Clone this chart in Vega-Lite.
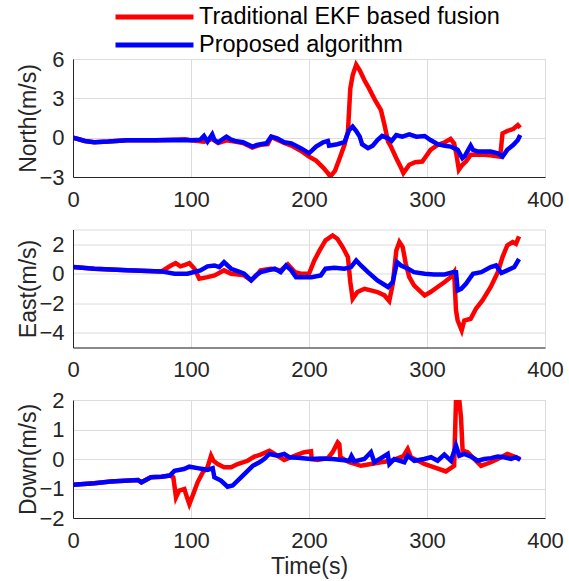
{
"$schema": "https://vega.github.io/schema/vega-lite/v6.json",
"background": "white",
"padding": {"left": 17, "top": 4, "right": 5, "bottom": 5},
"bounds": "flush",
"spacing": 52.5,
"config": {
 "font": "Liberation Sans",
 "view": {"stroke": "#dcdcdc", "strokeWidth": 1},
 "axis": {"labelFont": "Liberation Sans", "labelFontSize": 22, "labelColor": "#262626", "titleFont": "Liberation Sans", "titleFontSize": 23, "titleFontWeight": "normal", "titleColor": "#262626", "domainColor": "#262626", "domainWidth": 1, "tickSize": 0, "gridColor": "#dcdcdc", "gridWidth": 1, "labelFlush": false, "labelOverlap": false},
 "axisX": {"labelPadding": 12, "titlePadding": 4},
 "axisY": {"labelPadding": 9, "titlePadding": -2},
 "legend": {"labelFont": "Liberation Sans"}
},
"data": {"values": [
{"p":"N","s":"A","t":0,"v":0},{"p":"N","s":"A","t":5,"v":-0.12},{"p":"N","s":"A","t":10,"v":-0.25},{"p":"N","s":"A","t":18,"v":-0.35},{"p":"N","s":"A","t":30,"v":-0.3},{"p":"N","s":"A","t":46,"v":-0.2},{"p":"N","s":"A","t":70,"v":-0.2},{"p":"N","s":"A","t":85,"v":-0.15},{"p":"N","s":"A","t":95,"v":-0.12},{"p":"N","s":"A","t":100,"v":-0.2},{"p":"N","s":"A","t":111,"v":-0.3},{"p":"N","s":"A","t":118,"v":-0.1},{"p":"N","s":"A","t":123,"v":-0.4},{"p":"N","s":"A","t":130,"v":-0.2},{"p":"N","s":"A","t":137,"v":-0.3},{"p":"N","s":"A","t":144,"v":-0.4},{"p":"N","s":"A","t":152,"v":-0.75},{"p":"N","s":"A","t":159,"v":-0.55},{"p":"N","s":"A","t":165,"v":-0.5},{"p":"N","s":"A","t":168,"v":0.05},{"p":"N","s":"A","t":173,"v":-0.15},{"p":"N","s":"A","t":179,"v":-0.4},{"p":"N","s":"A","t":185,"v":-0.6},{"p":"N","s":"A","t":193,"v":-1.0},{"p":"N","s":"A","t":200,"v":-1.45},{"p":"N","s":"A","t":206,"v":-1.75},{"p":"N","s":"A","t":212,"v":-2.28},{"p":"N","s":"A","t":216,"v":-2.7},{"p":"N","s":"A","t":218,"v":-2.96},{"p":"N","s":"A","t":222,"v":-2.53},{"p":"N","s":"A","t":226,"v":-1.57},{"p":"N","s":"A","t":230,"v":-0.56},{"p":"N","s":"A","t":233,"v":0.46},{"p":"N","s":"A","t":235,"v":3.75},{"p":"N","s":"A","t":237,"v":4.76},{"p":"N","s":"A","t":240,"v":5.57},{"p":"N","s":"A","t":243,"v":5.14},{"p":"N","s":"A","t":247,"v":4.38},{"p":"N","s":"A","t":251,"v":3.74},{"p":"N","s":"A","t":256,"v":2.86},{"p":"N","s":"A","t":261,"v":2.1},{"p":"N","s":"A","t":264,"v":0.96},{"p":"N","s":"A","t":267,"v":-0.3},{"p":"N","s":"A","t":269,"v":-0.6},{"p":"N","s":"A","t":274,"v":-1.57},{"p":"N","s":"A","t":278,"v":-2.3},{"p":"N","s":"A","t":280,"v":-2.7},{"p":"N","s":"A","t":285,"v":-2.07},{"p":"N","s":"A","t":290,"v":-1.87},{"p":"N","s":"A","t":296,"v":-1.82},{"p":"N","s":"A","t":298,"v":-1.57},{"p":"N","s":"A","t":303,"v":-0.93},{"p":"N","s":"A","t":309,"v":-0.56},{"p":"N","s":"A","t":315,"v":-0.35},{"p":"N","s":"A","t":320,"v":-0.1},{"p":"N","s":"A","t":323,"v":-0.45},{"p":"N","s":"A","t":325,"v":-1.31},{"p":"N","s":"A","t":327,"v":-2.45},{"p":"N","s":"A","t":330,"v":-2.07},{"p":"N","s":"A","t":333,"v":-1.82},{"p":"N","s":"A","t":337,"v":-1.31},{"p":"N","s":"A","t":343,"v":-1.31},{"p":"N","s":"A","t":349,"v":-1.31},{"p":"N","s":"A","t":355,"v":-1.36},{"p":"N","s":"A","t":362,"v":-1.45},{"p":"N","s":"A","t":364,"v":0.33},{"p":"N","s":"A","t":368,"v":0.51},{"p":"N","s":"A","t":373,"v":0.66},{"p":"N","s":"A","t":377,"v":0.96},{"p":"N","s":"A","t":379,"v":0.76},
{"p":"N","s":"B","t":0,"v":0},{"p":"N","s":"B","t":5,"v":-0.12},{"p":"N","s":"B","t":10,"v":-0.25},{"p":"N","s":"B","t":18,"v":-0.35},{"p":"N","s":"B","t":30,"v":-0.3},{"p":"N","s":"B","t":46,"v":-0.2},{"p":"N","s":"B","t":70,"v":-0.2},{"p":"N","s":"B","t":85,"v":-0.18},{"p":"N","s":"B","t":100,"v":-0.2},{"p":"N","s":"B","t":108,"v":-0.15},{"p":"N","s":"B","t":111,"v":0.13},{"p":"N","s":"B","t":114,"v":-0.3},{"p":"N","s":"B","t":118,"v":0.25},{"p":"N","s":"B","t":120,"v":-0.2},{"p":"N","s":"B","t":123,"v":-0.35},{"p":"N","s":"B","t":127,"v":-0.1},{"p":"N","s":"B","t":130,"v":0.08},{"p":"N","s":"B","t":133,"v":-0.1},{"p":"N","s":"B","t":137,"v":-0.25},{"p":"N","s":"B","t":144,"v":-0.35},{"p":"N","s":"B","t":152,"v":-0.68},{"p":"N","s":"B","t":156,"v":-0.55},{"p":"N","s":"B","t":159,"v":-0.5},{"p":"N","s":"B","t":164,"v":-0.43},{"p":"N","s":"B","t":168,"v":0.08},{"p":"N","s":"B","t":173,"v":-0.05},{"p":"N","s":"B","t":179,"v":-0.35},{"p":"N","s":"B","t":185,"v":-0.43},{"p":"N","s":"B","t":193,"v":-0.8},{"p":"N","s":"B","t":200,"v":-1.19},{"p":"N","s":"B","t":206,"v":-0.68},{"p":"N","s":"B","t":212,"v":-0.35},{"p":"N","s":"B","t":216,"v":-0.25},{"p":"N","s":"B","t":217,"v":-0.61},{"p":"N","s":"B","t":224,"v":-0.5},{"p":"N","s":"B","t":230,"v":-0.35},{"p":"N","s":"B","t":234,"v":0.58},{"p":"N","s":"B","t":237,"v":0.84},{"p":"N","s":"B","t":240,"v":0.51},{"p":"N","s":"B","t":243,"v":0.08},{"p":"N","s":"B","t":245,"v":-0.5},{"p":"N","s":"B","t":250,"v":-0.8},{"p":"N","s":"B","t":254,"v":-0.61},{"p":"N","s":"B","t":258,"v":-0.18},{"p":"N","s":"B","t":262,"v":0.13},{"p":"N","s":"B","t":267,"v":-0.05},{"p":"N","s":"B","t":270,"v":-0.25},{"p":"N","s":"B","t":274,"v":0.2},{"p":"N","s":"B","t":279,"v":0.08},{"p":"N","s":"B","t":285,"v":0.25},{"p":"N","s":"B","t":291,"v":0.08},{"p":"N","s":"B","t":298,"v":0.13},{"p":"N","s":"B","t":303,"v":-0.18},{"p":"N","s":"B","t":309,"v":-0.5},{"p":"N","s":"B","t":315,"v":-0.61},{"p":"N","s":"B","t":320,"v":-0.68},{"p":"N","s":"B","t":326,"v":-0.93},{"p":"N","s":"B","t":330,"v":-1.57},{"p":"N","s":"B","t":332,"v":-1.4},{"p":"N","s":"B","t":337,"v":-0.61},{"p":"N","s":"B","t":339,"v":-0.93},{"p":"N","s":"B","t":343,"v":-1.06},{"p":"N","s":"B","t":349,"v":-1.06},{"p":"N","s":"B","t":354,"v":-1.06},{"p":"N","s":"B","t":360,"v":-1.19},{"p":"N","s":"B","t":364,"v":-1.45},{"p":"N","s":"B","t":368,"v":-0.93},{"p":"N","s":"B","t":373,"v":-0.56},{"p":"N","s":"B","t":377,"v":-0.18},{"p":"N","s":"B","t":379,"v":0.2},
{"p":"E","s":"A","t":0,"v":0.45},{"p":"E","s":"A","t":18,"v":0.34},{"p":"E","s":"A","t":46,"v":0.23},{"p":"E","s":"A","t":75,"v":0.16},{"p":"E","s":"A","t":83,"v":0.56},{"p":"E","s":"A","t":87,"v":0.72},{"p":"E","s":"A","t":91,"v":0.5},{"p":"E","s":"A","t":95,"v":0.6},{"p":"E","s":"A","t":98.6,"v":0.72},{"p":"E","s":"A","t":103,"v":0.34},{"p":"E","s":"A","t":107,"v":-0.34},{"p":"E","s":"A","t":114,"v":-0.23},{"p":"E","s":"A","t":120,"v":-0.11},{"p":"E","s":"A","t":128,"v":0.23},{"p":"E","s":"A","t":134,"v":0},{"p":"E","s":"A","t":140,"v":-0.05},{"p":"E","s":"A","t":145,"v":-0.11},{"p":"E","s":"A","t":151,"v":-0.45},{"p":"E","s":"A","t":155,"v":-0.15},{"p":"E","s":"A","t":159,"v":0.23},{"p":"E","s":"A","t":165,"v":0.3},{"p":"E","s":"A","t":168,"v":0.34},{"p":"E","s":"A","t":176,"v":0.23},{"p":"E","s":"A","t":182,"v":0.63},{"p":"E","s":"A","t":188,"v":0.11},{"p":"E","s":"A","t":193,"v":0},{"p":"E","s":"A","t":200,"v":0},{"p":"E","s":"A","t":204.5,"v":0.9},{"p":"E","s":"A","t":209,"v":1.58},{"p":"E","s":"A","t":214,"v":2.26},{"p":"E","s":"A","t":220,"v":2.6},{"p":"E","s":"A","t":224,"v":2.37},{"p":"E","s":"A","t":228.5,"v":1.81},{"p":"E","s":"A","t":233,"v":1.13},{"p":"E","s":"A","t":235,"v":-0.56},{"p":"E","s":"A","t":237,"v":-1.7},{"p":"E","s":"A","t":241,"v":-1.24},{"p":"E","s":"A","t":247,"v":-1.02},{"p":"E","s":"A","t":252.5,"v":-1.13},{"p":"E","s":"A","t":258,"v":-1.24},{"p":"E","s":"A","t":264,"v":-1.47},{"p":"E","s":"A","t":268,"v":-1.85},{"p":"E","s":"A","t":271,"v":-0.68},{"p":"E","s":"A","t":274,"v":1.58},{"p":"E","s":"A","t":276.6,"v":2.15},{"p":"E","s":"A","t":279.4,"v":1.81},{"p":"E","s":"A","t":282,"v":0.68},{"p":"E","s":"A","t":285,"v":-0.23},{"p":"E","s":"A","t":289,"v":-0.79},{"p":"E","s":"A","t":295,"v":-1.24},{"p":"E","s":"A","t":298,"v":-1.47},{"p":"E","s":"A","t":303,"v":-1.24},{"p":"E","s":"A","t":309,"v":-0.9},{"p":"E","s":"A","t":315,"v":-0.56},{"p":"E","s":"A","t":320,"v":-0.23},{"p":"E","s":"A","t":323,"v":0.11},{"p":"E","s":"A","t":324.6,"v":-2.49},{"p":"E","s":"A","t":326,"v":-3.17},{"p":"E","s":"A","t":329.4,"v":-3.84},{"p":"E","s":"A","t":331.6,"v":-3.17},{"p":"E","s":"A","t":337,"v":-3.05},{"p":"E","s":"A","t":341.5,"v":-2.37},{"p":"E","s":"A","t":347,"v":-1.81},{"p":"E","s":"A","t":354,"v":-0.9},{"p":"E","s":"A","t":360,"v":0.11},{"p":"E","s":"A","t":364,"v":1.13},{"p":"E","s":"A","t":368,"v":1.92},{"p":"E","s":"A","t":372.6,"v":2.15},{"p":"E","s":"A","t":375.4,"v":2.03},{"p":"E","s":"A","t":378,"v":2.53},
{"p":"E","s":"B","t":0,"v":0.45},{"p":"E","s":"B","t":18,"v":0.34},{"p":"E","s":"B","t":46,"v":0.23},{"p":"E","s":"B","t":75,"v":0.16},{"p":"E","s":"B","t":86,"v":0},{"p":"E","s":"B","t":97,"v":0},{"p":"E","s":"B","t":108,"v":0.23},{"p":"E","s":"B","t":114,"v":0.5},{"p":"E","s":"B","t":120,"v":0.56},{"p":"E","s":"B","t":124,"v":0.45},{"p":"E","s":"B","t":128,"v":0.79},{"p":"E","s":"B","t":134,"v":0.34},{"p":"E","s":"B","t":140,"v":0.16},{"p":"E","s":"B","t":145,"v":0},{"p":"E","s":"B","t":151,"v":-0.45},{"p":"E","s":"B","t":155,"v":-0.11},{"p":"E","s":"B","t":159,"v":0.11},{"p":"E","s":"B","t":165,"v":0.23},{"p":"E","s":"B","t":171,"v":0.34},{"p":"E","s":"B","t":176,"v":0.11},{"p":"E","s":"B","t":180.5,"v":0.56},{"p":"E","s":"B","t":185,"v":0.23},{"p":"E","s":"B","t":189,"v":-0.23},{"p":"E","s":"B","t":196,"v":-0.23},{"p":"E","s":"B","t":202,"v":-0.23},{"p":"E","s":"B","t":210,"v":-0.11},{"p":"E","s":"B","t":214,"v":0.34},{"p":"E","s":"B","t":221.5,"v":0.41},{"p":"E","s":"B","t":230,"v":0.34},{"p":"E","s":"B","t":235.6,"v":0.45},{"p":"E","s":"B","t":240,"v":0.9},{"p":"E","s":"B","t":244,"v":0.56},{"p":"E","s":"B","t":250,"v":0.11},{"p":"E","s":"B","t":258,"v":-0.45},{"p":"E","s":"B","t":267,"v":-0.9},{"p":"E","s":"B","t":271,"v":-0.56},{"p":"E","s":"B","t":274.6,"v":0.79},{"p":"E","s":"B","t":278,"v":0.56},{"p":"E","s":"B","t":284,"v":0.34},{"p":"E","s":"B","t":289,"v":0.11},{"p":"E","s":"B","t":298,"v":0},{"p":"E","s":"B","t":306,"v":-0.05},{"p":"E","s":"B","t":315,"v":-0.05},{"p":"E","s":"B","t":322,"v":0.11},{"p":"E","s":"B","t":324.6,"v":0.11},{"p":"E","s":"B","t":326,"v":-1.13},{"p":"E","s":"B","t":329,"v":-1.02},{"p":"E","s":"B","t":333,"v":-0.68},{"p":"E","s":"B","t":339,"v":0},{"p":"E","s":"B","t":346,"v":0.11},{"p":"E","s":"B","t":354,"v":0.45},{"p":"E","s":"B","t":358.5,"v":0.56},{"p":"E","s":"B","t":363,"v":0.05},{"p":"E","s":"B","t":368,"v":0.23},{"p":"E","s":"B","t":374,"v":0.45},{"p":"E","s":"B","t":378,"v":1.0},
{"p":"D","s":"A","t":0,"v":-0.87},{"p":"D","s":"A","t":18,"v":-0.82},{"p":"D","s":"A","t":32,"v":-0.76},{"p":"D","s":"A","t":55,"v":-0.71},{"p":"D","s":"A","t":58,"v":-0.79},{"p":"D","s":"A","t":66,"v":-0.62},{"p":"D","s":"A","t":75,"v":-0.6},{"p":"D","s":"A","t":82,"v":-0.56},{"p":"D","s":"A","t":85,"v":-0.62},{"p":"D","s":"A","t":87.3,"v":-1.3},{"p":"D","s":"A","t":90,"v":-1.07},{"p":"D","s":"A","t":94.4,"v":-1.02},{"p":"D","s":"A","t":96.6,"v":-1.3},{"p":"D","s":"A","t":98.6,"v":-1.53},{"p":"D","s":"A","t":101.4,"v":-1.24},{"p":"D","s":"A","t":105.6,"v":-0.79},{"p":"D","s":"A","t":110,"v":-0.45},{"p":"D","s":"A","t":114,"v":-0.28},{"p":"D","s":"A","t":117,"v":0.11},{"p":"D","s":"A","t":119,"v":-0.06},{"p":"D","s":"A","t":122.6,"v":-0.17},{"p":"D","s":"A","t":128,"v":-0.28},{"p":"D","s":"A","t":134,"v":-0.28},{"p":"D","s":"A","t":139.5,"v":-0.17},{"p":"D","s":"A","t":148,"v":-0.06},{"p":"D","s":"A","t":153.7,"v":0.08},{"p":"D","s":"A","t":159,"v":0.15},{"p":"D","s":"A","t":166.4,"v":0.28},{"p":"D","s":"A","t":173.4,"v":0.11},{"p":"D","s":"A","t":179,"v":-0.03},{"p":"D","s":"A","t":184.7,"v":0.06},{"p":"D","s":"A","t":190.4,"v":0.15},{"p":"D","s":"A","t":196,"v":0.23},{"p":"D","s":"A","t":201.7,"v":0.26},{"p":"D","s":"A","t":202.3,"v":0},{"p":"D","s":"A","t":207,"v":-0.03},{"p":"D","s":"A","t":216,"v":0.03},{"p":"D","s":"A","t":220,"v":0.23},{"p":"D","s":"A","t":224.3,"v":0.56},{"p":"D","s":"A","t":225.7,"v":0.5},{"p":"D","s":"A","t":226.6,"v":0.06},{"p":"D","s":"A","t":234,"v":-0.11},{"p":"D","s":"A","t":244,"v":-0.23},{"p":"D","s":"A","t":252.5,"v":-0.17},{"p":"D","s":"A","t":261,"v":-0.11},{"p":"D","s":"A","t":269.5,"v":-0.06},{"p":"D","s":"A","t":280,"v":0.1},{"p":"D","s":"A","t":283.6,"v":0.34},{"p":"D","s":"A","t":286.4,"v":0.06},{"p":"D","s":"A","t":297.7,"v":-0.17},{"p":"D","s":"A","t":306.2,"v":-0.28},{"p":"D","s":"A","t":316,"v":-0.42},{"p":"D","s":"A","t":323,"v":-0.23},{"p":"D","s":"A","t":324.6,"v":2.0},{"p":"D","s":"A","t":327.4,"v":1.98},{"p":"D","s":"A","t":328.8,"v":1.41},{"p":"D","s":"A","t":330.2,"v":0.28},{"p":"D","s":"A","t":334.5,"v":0.23},{"p":"D","s":"A","t":340,"v":0},{"p":"D","s":"A","t":345.8,"v":-0.23},{"p":"D","s":"A","t":354,"v":-0.11},{"p":"D","s":"A","t":360,"v":0},{"p":"D","s":"A","t":368,"v":0.17},{"p":"D","s":"A","t":374,"v":0.08},{"p":"D","s":"A","t":379,"v":0},
{"p":"D","s":"B","t":0,"v":-0.87},{"p":"D","s":"B","t":18,"v":-0.82},{"p":"D","s":"B","t":32,"v":-0.76},{"p":"D","s":"B","t":55,"v":-0.71},{"p":"D","s":"B","t":58,"v":-0.79},{"p":"D","s":"B","t":66,"v":-0.62},{"p":"D","s":"B","t":75,"v":-0.6},{"p":"D","s":"B","t":82,"v":-0.56},{"p":"D","s":"B","t":86,"v":-0.4},{"p":"D","s":"B","t":94,"v":-0.34},{"p":"D","s":"B","t":98.6,"v":-0.26},{"p":"D","s":"B","t":105.6,"v":-0.31},{"p":"D","s":"B","t":110,"v":-0.34},{"p":"D","s":"B","t":114,"v":-0.37},{"p":"D","s":"B","t":118.4,"v":-0.31},{"p":"D","s":"B","t":119.8,"v":-0.62},{"p":"D","s":"B","t":125.4,"v":-0.73},{"p":"D","s":"B","t":131,"v":-0.94},{"p":"D","s":"B","t":135.3,"v":-0.9},{"p":"D","s":"B","t":142.4,"v":-0.62},{"p":"D","s":"B","t":148,"v":-0.4},{"p":"D","s":"B","t":152.3,"v":-0.23},{"p":"D","s":"B","t":158,"v":-0.11},{"p":"D","s":"B","t":162,"v":0},{"p":"D","s":"B","t":166.4,"v":0.17},{"p":"D","s":"B","t":173.4,"v":0.11},{"p":"D","s":"B","t":179,"v":0.17},{"p":"D","s":"B","t":183.3,"v":0.06},{"p":"D","s":"B","t":190,"v":0.04},{"p":"D","s":"B","t":201.7,"v":0},{"p":"D","s":"B","t":210,"v":0.02},{"p":"D","s":"B","t":220,"v":0},{"p":"D","s":"B","t":234.2,"v":-0.06},{"p":"D","s":"B","t":236,"v":0.1},{"p":"D","s":"B","t":238.4,"v":-0.08},{"p":"D","s":"B","t":246.9,"v":0},{"p":"D","s":"B","t":252.5,"v":0.23},{"p":"D","s":"B","t":255.4,"v":-0.11},{"p":"D","s":"B","t":261,"v":0.03},{"p":"D","s":"B","t":266.7,"v":0.17},{"p":"D","s":"B","t":268.1,"v":-0.17},{"p":"D","s":"B","t":272.3,"v":0},{"p":"D","s":"B","t":280.8,"v":-0.11},{"p":"D","s":"B","t":283.6,"v":0.11},{"p":"D","s":"B","t":289.3,"v":-0.06},{"p":"D","s":"B","t":297.7,"v":0},{"p":"D","s":"B","t":303.4,"v":0.06},{"p":"D","s":"B","t":309,"v":-0.06},{"p":"D","s":"B","t":314.7,"v":0.15},{"p":"D","s":"B","t":320.3,"v":-0.06},{"p":"D","s":"B","t":324.6,"v":0.45},{"p":"D","s":"B","t":327.4,"v":0.11},{"p":"D","s":"B","t":331.6,"v":0.17},{"p":"D","s":"B","t":337.3,"v":0.08},{"p":"D","s":"B","t":343,"v":-0.06},{"p":"D","s":"B","t":348.6,"v":0},{"p":"D","s":"B","t":354.2,"v":0.03},{"p":"D","s":"B","t":359.9,"v":0.08},{"p":"D","s":"B","t":365.5,"v":0.06},{"p":"D","s":"B","t":371.2,"v":0},{"p":"D","s":"B","t":375.4,"v":0.06},{"p":"D","s":"B","t":379.1,"v":-0.03}
]},
"vconcat": [
 {
  "width": 472, "height": 118,
  "transform": [{"filter": "datum.p == 'N'"}],
  "mark": {"type": "line", "strokeWidth": 4.5, "clip": true},
  "encoding": {
   "x": {"field": "t", "type": "quantitative", "scale": {"domain": [0, 400], "nice": false}, "axis": {"values": [0, 100, 200, 300, 400], "title": null}},
   "y": {"field": "v", "type": "quantitative", "scale": {"domain": [-3, 6], "nice": false, "zero": false}, "axis": {"values": [-3, 0, 3, 6], "title": "North(m/s)"}},
   "color": {"field": "s", "type": "nominal", "scale": {"domain": ["A", "B"], "range": ["#ff0000", "#0000ff"]},
    "legend": {"orient": "none", "legendX": 69, "legendY": -54.5, "title": null, "padding": 0, "symbolType": "M-4,0H4", "symbolSize": 380, "symbolStrokeWidth": 5, "labelFontSize": 23.5, "labelOffset": 32, "rowPadding": 4, "labelColor": "#000000", "labelLimit": 0, "labelExpr": "datum.label == 'A' ? 'Traditional EKF based fusion' : 'Proposed algorithm'"}}
  }
 },
 {
  "width": 472, "height": 118,
  "transform": [{"filter": "datum.p == 'E'"}],
  "mark": {"type": "line", "strokeWidth": 4.5, "clip": true},
  "encoding": {
   "x": {"field": "t", "type": "quantitative", "scale": {"domain": [0, 400], "nice": false}, "axis": {"values": [0, 100, 200, 300, 400], "title": null}},
   "y": {"field": "v", "type": "quantitative", "scale": {"domain": [-5, 3], "nice": false, "zero": false}, "axis": {"values": [-4, -2, 0, 2], "title": "East(m/s)"}},
   "color": {"field": "s", "type": "nominal", "scale": {"domain": ["A", "B"], "range": ["#ff0000", "#0000ff"]},
    "legend": {"orient": "none", "legendX": 69, "legendY": -54.5, "title": null, "padding": 0, "symbolType": "M-4,0H4", "symbolSize": 380, "symbolStrokeWidth": 5, "labelFontSize": 23.5, "labelOffset": 32, "rowPadding": 4, "labelColor": "#000000", "labelLimit": 0, "labelExpr": "datum.label == 'A' ? 'Traditional EKF based fusion' : 'Proposed algorithm'"}}
  }
 },
 {
  "width": 472, "height": 118,
  "transform": [{"filter": "datum.p == 'D'"}],
  "mark": {"type": "line", "strokeWidth": 4.5, "clip": true},
  "encoding": {
   "x": {"field": "t", "type": "quantitative", "scale": {"domain": [0, 400], "nice": false}, "axis": {"values": [0, 100, 200, 300, 400], "title": "Time(s)"}},
   "y": {"field": "v", "type": "quantitative", "scale": {"domain": [-2, 2], "nice": false, "zero": false}, "axis": {"values": [-2, -1, 0, 1, 2], "title": "Down(m/s)"}},
   "color": {"field": "s", "type": "nominal", "scale": {"domain": ["A", "B"], "range": ["#ff0000", "#0000ff"]},
    "legend": {"orient": "none", "legendX": 69, "legendY": -54.5, "title": null, "padding": 0, "symbolType": "M-4,0H4", "symbolSize": 380, "symbolStrokeWidth": 5, "labelFontSize": 23.5, "labelOffset": 32, "rowPadding": 4, "labelColor": "#000000", "labelLimit": 0, "labelExpr": "datum.label == 'A' ? 'Traditional EKF based fusion' : 'Proposed algorithm'"}}
  }
 }
]
}
